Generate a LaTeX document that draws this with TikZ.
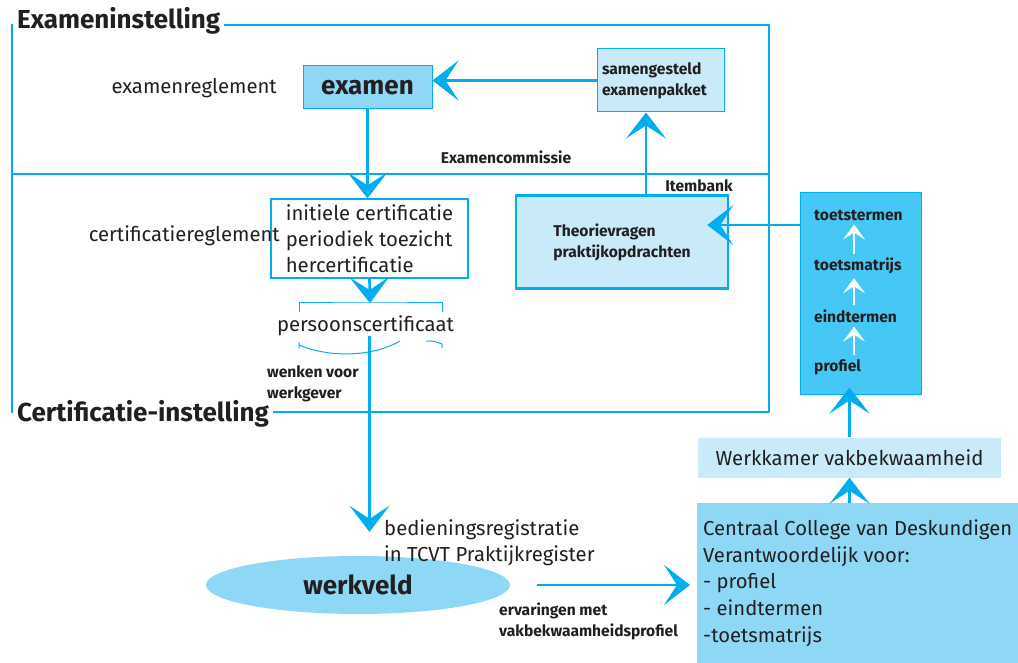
\documentclass[tikz,border=0pt]{standalone}
\usepackage{fontspec}
\setmainfont{Fira Sans}
\usetikzlibrary{arrows.meta,positioning,shapes.geometric}
\definecolor{tcblue}{HTML}{00AEEF}
\definecolor{tclight}{HTML}{C8EAF9}
\definecolor{tcmid}{HTML}{8FD8F5}
\definecolor{tcdeep}{HTML}{45C8F5}
\definecolor{tcdark}{HTML}{231F20}
\begin{document}
\begin{tikzpicture}[x=1pt, y=-1pt,
  every node/.style={text=tcdark},
  frame/.style={draw=tcblue, line width=1.3pt},
  flow/.style={draw=tcblue, line width=2.7pt, -{Stealth[length=26pt, width=40pt, inset=13pt]}},
  tiny/.style={draw=white, line width=1.8pt, -{Stealth[length=15pt, width=22pt, inset=7pt]}},
  ttl/.style={fill=white, inner xsep=4pt, inner ysep=1pt, font=\fontsize{26}{30}\selectfont\bfseries},
  bold/.style={inner sep=0pt, align=left, font=\fontsize{15.6}{21}\selectfont\bfseries},
  plain/.style={inner sep=0pt, align=left, font=\fontsize{20.3}{26}\selectfont},
  box/.style={draw=tcblue, line width=1pt}]
  \useasboundingbox (0,0) rectangle (1018,663);

  % the two institutions
  \draw[frame] (12,25) rectangle (769,412);
  \draw[frame] (12,174) -- (769,174);
  \node[ttl, anchor=base west] (exinst) at (13,29) {Exameninstelling};
  \node[ttl, anchor=base west] (certinst) at (13,421) {Certificatie-instelling};

  \node[box, fill=tcmid, minimum width=129pt, minimum height=43pt,
        font=\fontsize{26}{28}\selectfont\bfseries] (examen) at (367.5,87.5) {examen};
  \node[plain, anchor=east] (exreg) at (277,88) {examenreglement};
  \node[box, fill=tclight, bold, minimum width=127pt, minimum height=63pt,
        inner xsep=5pt, text width=117pt] (pakket) at (660.5,80.5) {samengesteld\\examenpakket};
  \node[bold] (excomm) at (506,157) {Examencommissie};
  \node[bold] (itembank) at (699,186) {Itembank};
  \node[box, line width=2.5pt, fill=tclight, bold, minimum width=212pt,
        minimum height=93pt] (theorie) at (622,242) {Theorievragen\\praktijkopdrachten};

  \node[box, fill=white, plain, line width=1.3pt, minimum width=197pt,
        minimum height=79pt] (certbox) at (369.5,238.5) {initiele certificatie\\periodiek toezicht\\hercertificatie};
  \node[plain, anchor=east] (certreg) at (280,236) {certificatiereglement};
  \node[plain] (pcert) at (365.5,326) {persoonscertificaat};
  \coordinate (captop) at (370,303);
  \draw[frame, line width=1pt] (299,312) -- (299,303) -- (captop) -- (442,303) -- (442,312);
  \draw[frame, line width=1pt] (299,342) -- (299,348)
        (299,345) .. controls (330,358) and (372,357) .. (400,341)
        (426,341) .. controls (434,341) .. (442,344) -- (442,348);
  \node[bold, anchor=west] (wenken) at (267,384) {wenken voor\\werkgever};

  % ladder of terms
  \node[box, fill=tcdeep, minimum width=121pt, minimum height=201pt] (ladder) at (860.5,293.5) {};
  \node[bold, anchor=west] (tterm) at (814,215) {toetstermen};
  \node[bold, anchor=west] (tmatr) at (814,266) {toetsmatrijs};
  \node[bold, anchor=west] (eind) at (814,316) {eindtermen};
  \node[bold, anchor=west] (prof) at (814,367) {profiel};
  \coordinate (rung) at (854,0);
  \draw[tiny, shorten <=4pt, shorten >=4pt] (prof.north -| rung) -- (eind.south -| rung);
  \draw[tiny, shorten <=4pt, shorten >=4pt] (eind.north -| rung) -- (tmatr.south -| rung);
  \draw[tiny, shorten <=4pt, shorten >=4pt] (tmatr.north -| rung) -- (tterm.south -| rung);

  \node[fill=tclight, plain, minimum width=303pt, minimum height=40pt] (werkkamer) at (849.5,457.5) {Werkkamer vakbekwaamheid};
  \node[fill=tcmid, plain, font=\fontsize{20.2}{26.75}\selectfont, minimum width=321pt,
        minimum height=160pt, anchor=north west] (ccvd) at (697,503)
        {Centraal College van Deskundigen\\Verantwoordelijk voor:\\- profiel\\- eindtermen\\-toetsmatrijs};

  \node[ellipse, fill=tcmid, minimum width=304pt, minimum height=58pt, inner sep=0pt,
        font=\fontsize{26}{28}\selectfont\bfseries] (werkveld) at (358,585) {werkveld};
  \node[plain, anchor=west] (bedien) at (384,542.5) {bedieningsregistratie\\in TCVT Praktijkregister};
  \node[bold, anchor=west] (ervar) at (499,621) {ervaringen met\\vakbekwaamheidsprofiel};

  % connectors
  \coordinate (itemcol) at (646,0);
  \coordinate (bankrow) at (0,225);
  \draw[flow] (pakket.west) -- (pakket.west -| examen.east);
  \draw[flow] (examen.south) -- (examen.south |- certbox.north);
  \draw[flow] (theorie.north -| itemcol) -- (pakket.south -| itemcol);
  \draw[flow, shorten >=-22pt] (ladder.west |- bankrow) -- (theorie.east |- bankrow);
  \draw[flow] (certbox.south) -- (captop);
  \draw[flow, shorten >=24pt] (certbox.south |- pcert.south) -- (certbox.south |- werkveld.north);
  \draw[flow, shorten <=27pt, shorten >=7pt] (werkveld.east) -- (ccvd.west |- werkveld.east);
  \draw[flow, shorten >=-7pt] (werkkamer.north) -- (werkkamer.north |- ladder.south);
  \draw[flow] (werkkamer.south |- ccvd.north) -- (werkkamer.south);
\end{tikzpicture}
\end{document}
